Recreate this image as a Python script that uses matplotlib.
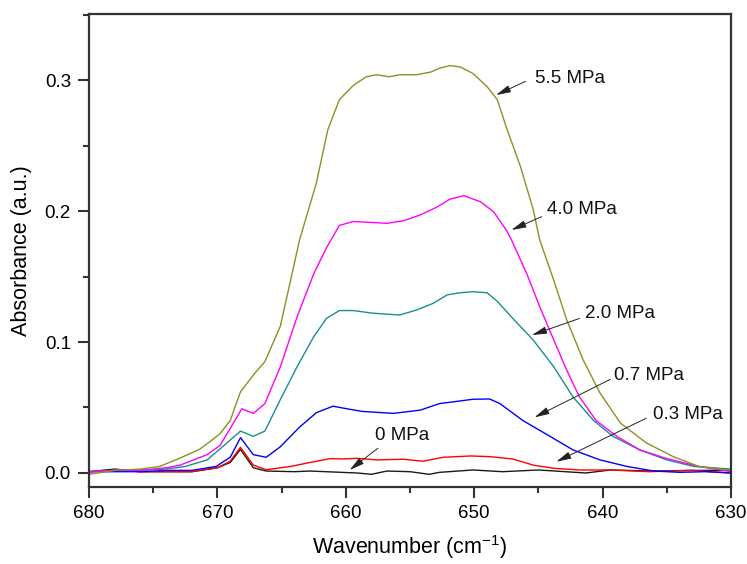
import matplotlib
matplotlib.use("Agg")
import matplotlib.pyplot as plt
from matplotlib.ticker import MultipleLocator

plt.rcParams['font.family'] = ['Liberation Sans', 'DejaVu Sans']
plt.rcParams['mathtext.fontset'] = 'custom'
plt.rcParams['mathtext.rm'] = 'Liberation Sans'
plt.rcParams['mathtext.it'] = 'Liberation Sans:italic'
plt.rcParams['mathtext.bf'] = 'Liberation Sans:bold'

# ---- data (wavenumber, absorbance) ----
x_55 = [680, 678, 676, 674.5, 673, 671.4, 670.3, 669.8, 669.0, 668.2, 667.1, 666.3, 665.1, 664.3, 663.6,
        662.3, 661.4, 660.5, 659.4, 658.4, 657.6, 656.6, 655.8, 654.5, 653.4, 652.7, 651.9, 651.1, 650.1,
        649.0, 648.2, 647.5, 646.4, 645.4, 644.9, 643.8, 642.8, 641.5, 640.2, 638.6, 636.6, 634.5, 632.5, 630]
y_55 = [-0.001, 0.002, 0.003, 0.005, 0.011, 0.018, 0.026, 0.030, 0.040, 0.062, 0.076, 0.085, 0.112, 0.147, 0.178,
        0.221, 0.262, 0.285, 0.296, 0.3025, 0.304, 0.3025, 0.304, 0.304, 0.306, 0.309, 0.311, 0.310, 0.305,
        0.295, 0.285, 0.264, 0.234, 0.201, 0.178, 0.147, 0.117, 0.086, 0.061, 0.038, 0.023, 0.0125, 0.005, 0.002]

x_40 = [680, 678, 676, 674, 672.9, 670.8, 669.8, 669.0, 668.1, 667.2, 666.3, 665.1, 663.8, 662.5, 661.5,
        660.5, 659.4, 658.1, 656.8, 655.5, 654.2, 652.9, 651.9, 650.8, 649.5, 648.5, 647.5, 647.1, 645.9,
        644.9, 643.8, 642.8, 641.8, 640.5, 638.9, 637.1, 635.0, 634.0, 632.5, 630]
y_40 = [0.001, 0.002, 0.002, 0.004, 0.006, 0.014, 0.021, 0.034, 0.049, 0.0455, 0.053, 0.081, 0.119, 0.152, 0.172,
        0.189, 0.192, 0.1913, 0.1906, 0.1926, 0.197, 0.203, 0.209, 0.2117, 0.207, 0.1995, 0.1855, 0.178, 0.152,
        0.127, 0.1015, 0.0786, 0.058, 0.040, 0.028, 0.0176, 0.011, 0.0086, 0.005, 0.001]

x_20 = [680, 678, 676, 674, 672.5, 670.8, 669.6, 668.2, 667.2, 666.3, 665.1, 663.8, 662.5, 661.5, 660.5,
        659.4, 657.9, 655.8, 654.5, 653.2, 652.1, 651.1, 650.1, 649.0, 648.2, 646.9, 645.4, 643.8, 642.3,
        640.7, 639.2, 637.1, 635.0, 632.9, 630]
y_20 = [0.001, 0.002, 0.002, 0.003, 0.005, 0.010, 0.020, 0.032, 0.028, 0.032, 0.056, 0.081, 0.104, 0.118, 0.124,
        0.124, 0.122, 0.1206, 0.1244, 0.1295, 0.136, 0.1376, 0.1384, 0.1376, 0.131, 0.117, 0.1015, 0.081, 0.058,
        0.040, 0.028, 0.0176, 0.010, 0.005, 0.003]

x_07 = [680, 678, 676, 674, 672, 670.1, 669.0, 668.2, 667.2, 666.2, 665.1, 663.6, 662.3, 661.0, 659.9,
        658.7, 656.3, 654.2, 652.7, 651.1, 650.1, 648.8, 648.0, 646.2, 644.1, 642.3, 640.2, 638.1, 636.0,
        634.0, 632.0, 630]
y_07 = [0.001, 0.001, 0.001, 0.002, 0.002, 0.005, 0.012, 0.027, 0.014, 0.012, 0.020, 0.035, 0.046, 0.051, 0.049,
        0.047, 0.0455, 0.048, 0.053, 0.055, 0.0563, 0.0565, 0.053, 0.040, 0.028, 0.0176, 0.010, 0.005, 0.0015,
        0.0005, 0.001, 0.0]

x_03 = [680, 678, 676, 674, 672, 670, 669, 668.2, 667.2, 666.2, 664.3, 662.8, 661.2, 660.2, 659.1, 657.6,
        655.5, 654.0, 652.4, 650.3, 648.8, 647.0, 645.4, 643.8, 641.8, 639.4, 636.4, 633.1, 630]
y_03 = [0.001, 0.002, 0.001, 0.001, 0.001, 0.004, 0.009, 0.0196, 0.006, 0.0025, 0.005, 0.008, 0.011, 0.0107, 0.0112, 0.010,
        0.0105, 0.009, 0.012, 0.013, 0.0125, 0.0107, 0.006, 0.0036, 0.0023, 0.0023, 0.001, 0.002, 0.0]

x_00 = [680, 678, 676, 674, 672, 670, 669, 668.2, 667.2, 666.2, 664, 662.8, 659.1, 658, 656.8, 655, 653.5,
        652.7, 650.1, 647.8, 645.0, 641.3, 639.4, 636, 633, 630]
y_00 = [0.001, 0.003, 0.001, 0.001, 0.001, 0.004, 0.008, 0.018, 0.004, 0.0015, 0.001, 0.0015, 0.0, -0.001, 0.0015, 0.001, -0.001,
        0.0005, 0.0023, 0.001, 0.0023, 0.0, 0.0023, 0.0015, 0.002, 0.002]

series = [
    (x_00, y_00, '#1a1a1a'),
    (x_03, y_03, '#ff0000'),
    (x_07, y_07, '#0000ff'),
    (x_20, y_20, '#1a8f8f'),
    (x_40, y_40, '#ff00ff'),
    (x_55, y_55, '#8f8f24'),
]

# annotations: label, text position, arrow tail, arrow head (data coords)
labels = ['5.5 MPa', '4.0 MPa', '2.0 MPa', '0.7 MPa', '0.3 MPa', '0 MPa']
text_pos = [(645.3, 0.301), (644.35, 0.2008), (641.4, 0.1219), (639.1, 0.0748), (636.1, 0.0443), (657.7, 0.029)]
arrow_tail = [(646.0, 0.299), (644.75, 0.1957), (641.8, 0.118), (639.4, 0.0715), (636.6, 0.0418), (657.5, 0.0189)]
arrow_head = [(648.3, 0.2885), (647.1, 0.1855), (645.5, 0.1053), (645.3, 0.0425), (643.6, 0.0086), (659.7, 0.0023)]

fig = plt.figure(figsize=(7.47, 5.64), dpi=100)
ax = fig.add_axes([0.1191, 0.1365, 0.8595, 0.8387])

for xs, ys, c in series:
    ax.plot(xs, ys, color=c, lw=1.0)

for lab, tp, tl, hd in zip(labels, text_pos, arrow_tail, arrow_head):
    ax.text(tp[0], tp[1], lab, fontsize=13.5, ha='left', va='center', color='#111111')
    ax.annotate('', xy=hd, xytext=tl,
                arrowprops=dict(arrowstyle='-|>,head_length=0.9,head_width=0.22',
                                color='#222222', lw=0.7, shrinkA=0, shrinkB=0))

ax.set_xlim(680, 630)
ax.set_ylim(-0.0107, 0.3504)
ax.xaxis.set_major_locator(MultipleLocator(10))
ax.xaxis.set_minor_locator(MultipleLocator(5))
ax.yaxis.set_major_locator(MultipleLocator(0.1))
ax.yaxis.set_minor_locator(MultipleLocator(0.05))
ax.yaxis.set_major_formatter(plt.FuncFormatter(lambda v, p: f"{v:.1f}"))

ax.tick_params(which='major', direction='out', length=8, width=1.5, labelsize=13.5, color='#333333', pad=5)
ax.tick_params(which='minor', direction='out', length=4.5, width=1.5, color='#333333')
for s in ax.spines.values():
    s.set_linewidth(1.6)
    s.set_color('#333333')

ax.set_xlabel('Wavenumber (cm$^{-1}$)', fontsize=15.5, labelpad=8)
ax.set_ylabel('Absorbance (a.u.)', fontsize=15.5, labelpad=9)

fig.savefig('out.png', dpi=100)
